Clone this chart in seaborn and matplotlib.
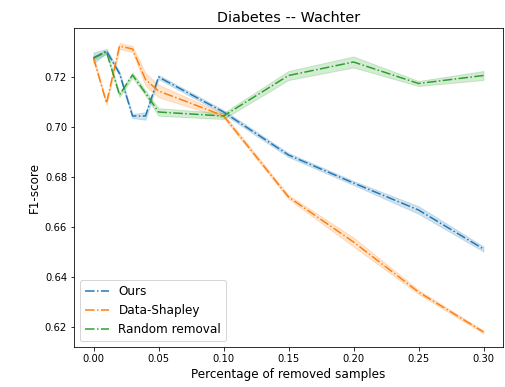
import matplotlib
matplotlib.use("Agg")
import matplotlib.pyplot as plt
import seaborn as sns
import pandas as pd

pct = [0.0, 0.01, 0.02, 0.03, 0.04, 0.05, 0.10, 0.15, 0.20, 0.25, 0.30]

ours = [0.7276, 0.7304, 0.7214, 0.7044, 0.7044, 0.7200, 0.7060, 0.6888, 0.6776, 0.6668, 0.6512]
ours_band = [0.0022, 0.0008, 0.0008, 0.0008, 0.0015, 0.0008, 0.0008, 0.0008, 0.0008, 0.0015, 0.0010]

shapley = [0.7276, 0.7096, 0.7324, 0.7312, 0.7190, 0.7144, 0.7045, 0.6720, 0.6540, 0.6340, 0.6180]
shapley_band = [0.0008, 0.0008, 0.0012, 0.0012, 0.0025, 0.0025, 0.0008, 0.0008, 0.0018, 0.0008, 0.0006]

random_rm = [0.7276, 0.7300, 0.7128, 0.7208, 0.7136, 0.7060, 0.7044, 0.7206, 0.7260, 0.7174, 0.7206]
random_band = [0.0008, 0.0008, 0.0008, 0.0010, 0.0010, 0.0015, 0.0012, 0.0018, 0.0022, 0.0010, 0.0018]

series = [("Ours", ours, ours_band),
          ("Data-Shapley", shapley, shapley_band),
          ("Random removal", random_rm, random_band)]

rows = []
for name, vals, band in series:
    for x, v, b in zip(pct, vals, band):
        rows.append((name, x, v - b))
        rows.append((name, x, v + b))
df = pd.DataFrame(rows, columns=["method", "pct", "f1"])

plt.rcParams["font.size"] = 12
plt.rcParams["xtick.labelsize"] = 10
plt.rcParams["ytick.labelsize"] = 10
fig = plt.figure(figsize=(505 / 72, 387 / 72), dpi=72)
ax = fig.add_axes([74 / 505, 40 / 387, 429 / 505, 319 / 387])

palette = sns.color_palette("tab10", 3)
for (name, _, _), col in zip(series, palette):
    sns.lineplot(data=df[df.method == name], x="pct", y="f1", ax=ax,
                 color=col, linestyle="-.", linewidth=1.5,
                 errorbar=("pi", 100), label=name)

ax.set_ylim(0.612, 0.7396)
ax.set_xlabel("Percentage of removed samples")
ax.set_ylabel("F1-score")
ax.set_title("Diabetes -- Wachter")
ax.legend(loc="lower left")

fig.savefig("out.png", dpi=72)
